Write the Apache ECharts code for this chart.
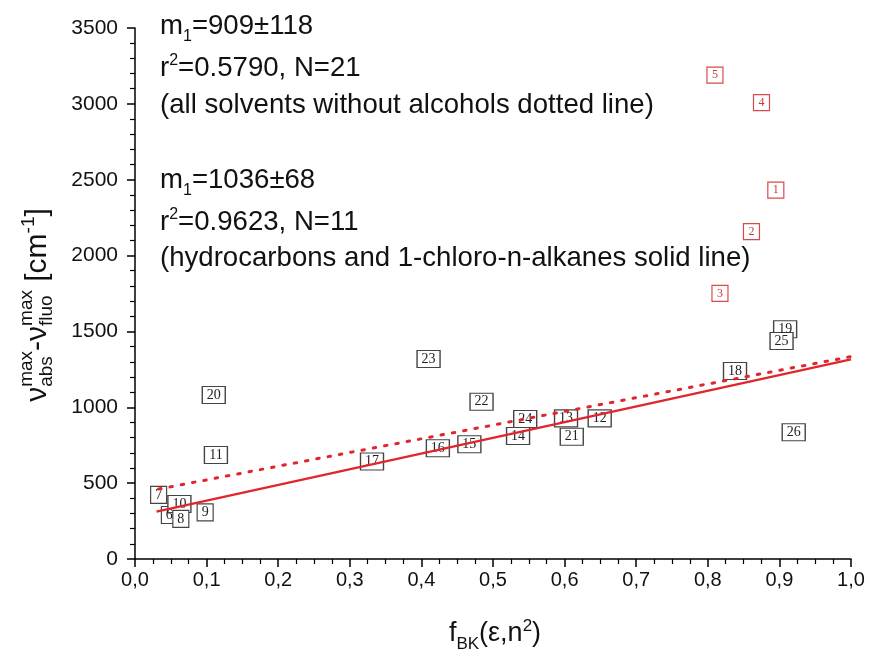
<!DOCTYPE html>
<html>
<head>
<meta charset="utf-8">
<script src="https://cdn.jsdelivr.net/npm/echarts@6/dist/echarts.min.js"></script>
<style>
html,body{margin:0;padding:0;background:#fff;}
#chart{width:870px;height:660px;}
</style>
</head>
<body>
<div id="chart"></div>
<script>
// ---- data ----
const redLabels = ['1', '2', '3', '4', '5'];
const redX = [0.895, 0.861, 0.817, 0.875, 0.810];
const redY = [2432, 2158, 1751, 3008, 3190];

const blackLabels = ['6', '7', '9', '10', '8', '11', '12', '13', '14', '15', '16', '17', '18', '19', '20', '21', '22', '23', '24', '25', '26'];
const blackX = [0.048, 0.033, 0.098, 0.062, 0.064, 0.113, 0.649, 0.602, 0.535, 0.467, 0.423, 0.331, 0.838, 0.908, 0.110, 0.610, 0.484, 0.410, 0.545, 0.903, 0.920];
const blackY = [290, 422, 308, 362, 264, 686, 927, 927, 811, 756, 730, 642, 1239, 1514, 1081, 806, 1037, 1318, 923, 1437, 835];

const solidFitX = [0.030, 1.0];
const solidFitY = [312, 1316];
const dottedFitX = [0.033, 1.0];
const dottedFitY = [461, 1334];

const xTickLabels = ['0,0', '0,1', '0,2', '0,3', '0,4', '0,5', '0,6', '0,7', '0,8', '0,9', '1,0'];

// ---- helpers for mixed sub/superscript text ----
const SANS = '"Liberation Sans", Arial, sans-serif';
const mctx = document.createElement('canvas').getContext('2d');
function tw(t, s, fam) { mctx.font = s + 'px ' + (fam || SANS); return mctx.measureText(t).width; }
function txt(t, x, dy, s, fam, fill) {
  return { type: 'text', x: x, y: dy, silent: true,
    style: { text: t, fontSize: s, fontFamily: fam || SANS, fill: fill || '#111', align: 'left', verticalAlign: 'middle' } };
}
function richGroup(parts, gx, gy, opt) {
  opt = opt || {};
  let x = 0; const ch = [];
  for (const p of parts) {
    if (p.sup !== undefined || p.sub !== undefined) {
      let wm = 0;
      if (p.sup) { ch.push(txt(p.sup, x, p.dyUp, p.s)); wm = Math.max(wm, tw(p.sup, p.s)); }
      if (p.sub) { ch.push(txt(p.sub, x, p.dyDown, p.s)); wm = Math.max(wm, tw(p.sub, p.s)); }
      x += wm;
    } else {
      ch.push(txt(p.t, x, p.dy || 0, p.s));
      x += tw(p.t, p.s);
    }
  }
  if (opt.center) { ch.forEach(c => { c.x -= x / 2; }); }
  return { type: 'group', x: gx, y: gy, rotation: opt.rotation || 0, children: ch };
}

const F = 27.6, FS = 16;
const annotations = [
  richGroup([{ t: 'm', s: F }, { sub: '1', s: FS, dyDown: 11 }, { t: '=909±118', s: F }], 160, 26),
  richGroup([{ t: 'r', s: F }, { sup: '2', s: FS, dyUp: -7 }, { t: '=0.5790, N=21', s: F }], 160, 68),
  richGroup([{ t: '(all solvents without alcohols dotted line)', s: F }], 160, 105),
  richGroup([{ t: 'm', s: F }, { sub: '1', s: FS, dyDown: 11 }, { t: '=1036±68', s: F }], 160, 180),
  richGroup([{ t: 'r', s: F }, { sup: '2', s: FS, dyUp: -7 }, { t: '=0.9623, N=11', s: F }], 160, 222),
  richGroup([{ t: '(hydrocarbons and 1-chloro-n-alkanes solid line)', s: F }], 160, 258)
];
const xTitle = richGroup([{ t: 'f', s: 27 }, { sub: 'BK', s: 17, dyDown: 10 }, { t: '(ε,n', s: 27 }, { sup: '2', s: 17, dyUp: -8 }, { t: ')', s: 27 }], 495, 634, { center: true });
const yTitle = richGroup([
  { t: 'ν', s: 30 }, { sup: 'max', sub: 'abs', s: 19, dyUp: -11, dyDown: 9 },
  { t: '-ν', s: 30 }, { sup: 'max', sub: 'fluo', s: 19, dyUp: -11, dyDown: 9 },
  { t: ' [cm', s: 30 }, { sup: '-1', s: 19, dyUp: -9 }, { t: ']', s: 30 }
], 38, 305, { center: true, rotation: Math.PI / 2 });

function pts(xs, ys, labels) { return xs.map((x, i) => ({ value: [x, ys[i]], name: labels[i] })); }

const chart = echarts.init(document.getElementById('chart'), null, { renderer: 'canvas' });
chart.setOption({
  animation: false,
  backgroundColor: '#fff',
  grid: { left: 135, right: 19, top: 28, bottom: 101, containLabel: false },
  xAxis: {
    type: 'value', min: 0, max: 1, interval: 0.1,
    axisLine: { show: true, onZero: false, lineStyle: { color: '#000', width: 1.5 } },
    axisTick: { show: true, inside: false, length: 8, lineStyle: { color: '#000', width: 1.5 } },
    minorTick: { show: true, splitNumber: 4, length: 5, lineStyle: { color: '#000', width: 1.2 } },
    splitLine: { show: false },
    axisLabel: { margin: 11, fontSize: 20, color: '#111', fontFamily: SANS,
      formatter: v => xTickLabels[Math.round(v * 10)] }
  },
  yAxis: {
    type: 'value', min: 0, max: 3500, interval: 500,
    axisLine: { show: true, onZero: false, lineStyle: { color: '#000', width: 1.5 } },
    axisTick: { show: true, inside: false, length: 8, lineStyle: { color: '#000', width: 1.5 } },
    minorTick: { show: true, splitNumber: 5, length: 5, lineStyle: { color: '#000', width: 1.2 } },
    splitLine: { show: false },
    axisLabel: { margin: 17, fontSize: 21, color: '#111', fontFamily: SANS, formatter: v => String(v) }
  },
  graphic: annotations.concat([xTitle, yTitle]),
  series: [
    {
      type: 'scatter', name: 'black', z: 2,
      data: pts(blackX, blackY, blackLabels),
      symbol: 'rect',
      symbolSize: (v, p) => [p.name.length > 1 ? 23 : 16, 17],
      itemStyle: { color: '#fff', borderColor: '#444', borderWidth: 1.2, opacity: 1 },
      label: { show: true, position: 'inside', formatter: '{b}', color: '#222', fontSize: 14, fontFamily: '"Liberation Serif", "Times New Roman", serif' },
      emphasis: { disabled: true }
    },
    {
      type: 'scatter', name: 'red', z: 2,
      data: pts(redX, redY, redLabels),
      symbol: 'rect',
      symbolSize: [16, 16],
      itemStyle: { color: '#fff', borderColor: '#d84a4a', borderWidth: 1.2, opacity: 1 },
      label: { show: true, position: 'inside', formatter: '{b}', color: '#c83a3a', fontSize: 12, fontFamily: '"Liberation Serif", "Times New Roman", serif' },
      emphasis: { disabled: true }
    },
    {
      type: 'line', name: 'solid fit', z: 5, showSymbol: false, silent: true,
      data: solidFitX.map((x, i) => [x, solidFitY[i]]),
      lineStyle: { color: '#e0262c', width: 2.2, type: 'solid' }
    },
    {
      type: 'line', name: 'dotted fit', z: 5, showSymbol: false, silent: true,
      data: dottedFitX.map((x, i) => [x, dottedFitY[i]]),
      lineStyle: { color: '#e0262c', width: 3, type: [2.5, 9], cap: 'round' }
    }
  ]
});
</script>
</body>
</html>
